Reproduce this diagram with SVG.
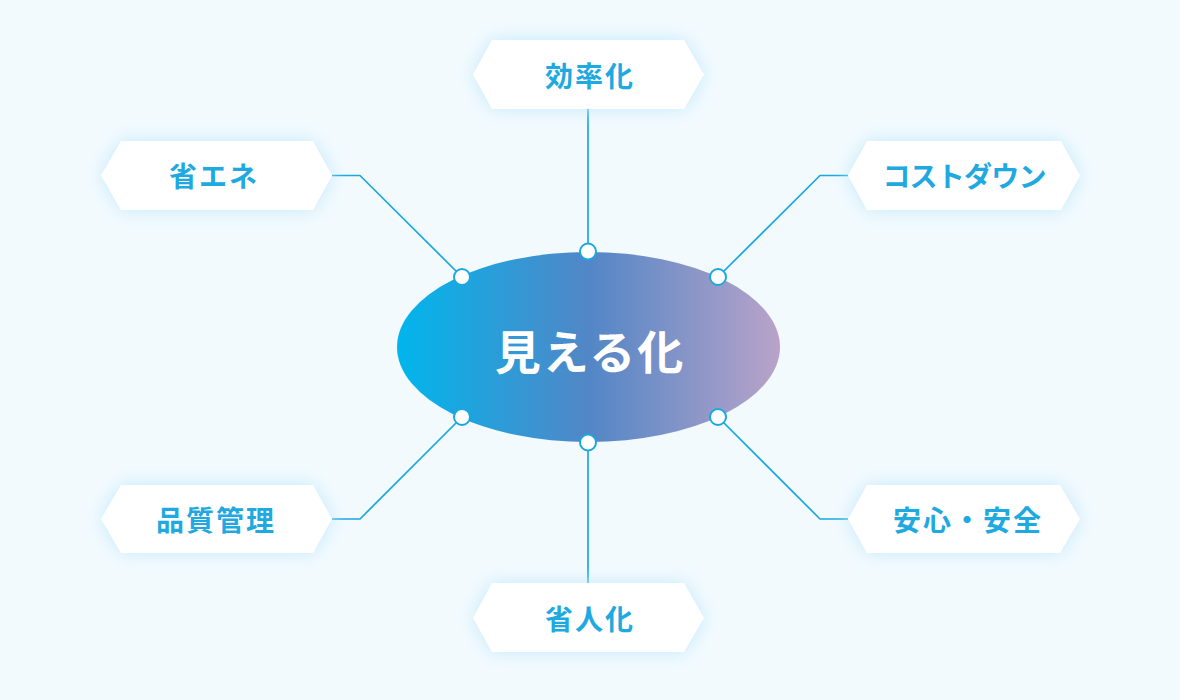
<svg xmlns="http://www.w3.org/2000/svg" width="1180" height="700" viewBox="0 0 1180 700">
  <defs>
    <linearGradient id="grad" x1="0" y1="0" x2="1" y2="0">
      <stop offset="0" stop-color="#00b6ec"/>
      <stop offset="0.5" stop-color="#5286c6"/>
      <stop offset="1" stop-color="#b9a3c9"/>
    </linearGradient>
    <filter id="glow2" x="-30%" y="-60%" width="160%" height="220%">
      <feGaussianBlur in="SourceAlpha" stdDeviation="9" result="b"/>
      <feFlood flood-color="#c4e9fa" result="c"/>
      <feComposite operator="in" in="c" in2="b" result="s"/>
      <feMerge><feMergeNode in="s"/><feMergeNode in="SourceGraphic"/></feMerge>
    </filter>
  </defs>
  <style>
    .hex { fill: #ffffff; filter: url(#glow2); }
    .lbl { font-family: "Noto Sans CJK JP", "Noto Sans CJK SC", sans-serif; font-weight: 700; font-size: 28px; letter-spacing: 2px; fill: #1fa9e1; text-anchor: middle; dominant-baseline: central; }
    .kana { letter-spacing: -0.8px; }
    .conn { fill: none; stroke: #1aa8e0; stroke-width: 1.7; }
    .dot { fill: #ffffff; stroke: #1aa8e0; stroke-width: 2; }
    .center { font-family: "Noto Sans CJK JP", "Noto Sans CJK SC", sans-serif; font-weight: 700; font-size: 46px; letter-spacing: 2px; fill: #ffffff; text-anchor: middle; dominant-baseline: central; }
  </style>
  <rect x="0" y="0" width="1180" height="700" fill="#f2fafe"/>

  <g id="connectors">
    <path class="conn" d="M588 109 V251"/>
    <path class="conn" d="M332 175.5 H360 L462 277"/>
    <path class="conn" d="M848 175.5 H820 L718 277"/>
    <path class="conn" d="M332 519 H360 L462 417"/>
    <path class="conn" d="M848 519 H820 L718 417"/>
    <path class="conn" d="M588 442 V583"/>
  </g>

  <g id="center-node">
    <ellipse cx="588.5" cy="347" rx="191.5" ry="95" fill="url(#grad)"/>
    <text class="center" x="590" y="348.5">見える化</text>
  </g>

  <g id="ports">
    <circle class="dot" cx="588" cy="251.5" r="8"/>
    <circle class="dot" cx="462" cy="277" r="8"/>
    <circle class="dot" cx="718" cy="277" r="8"/>
    <circle class="dot" cx="462" cy="417" r="8"/>
    <circle class="dot" cx="718" cy="417" r="8"/>
    <circle class="dot" cx="588" cy="442.5" r="8"/>
  </g>

  <g id="node-kouritsuka">
    <polygon class="hex" points="492,40 684,40 704,74.5 684,109 492,109 473,74.5"/>
    <text class="lbl" x="590" y="75">効率化</text>
  </g>
  <g id="node-shoene">
    <polygon class="hex" points="121,141 313,141 332,175.5 313,210 121,210 101,175.5"/>
    <text class="lbl" x="214" y="175">省エネ</text>
  </g>
  <g id="node-costdown">
    <polygon class="hex" points="867,141 1061,141 1080,175.5 1061,210 867,210 848,175.5"/>
    <text class="lbl kana" x="964" y="175">コストダウン</text>
  </g>
  <g id="node-hinshitsu">
    <polygon class="hex" points="121,485 313,485 332,519 313,553 121,553 101,519"/>
    <text class="lbl" x="216" y="519">品質管理</text>
  </g>
  <g id="node-anshin">
    <polygon class="hex" points="867,485 1060,485 1080,519 1060,553 867,553 848,519"/>
    <text class="lbl" x="968" y="519">安心・安全</text>
  </g>
  <g id="node-shoujinka">
    <polygon class="hex" points="492,583 684,583 704,618 684,652 492,652 473,618"/>
    <text class="lbl" x="590" y="618">省人化</text>
  </g>
</svg>
